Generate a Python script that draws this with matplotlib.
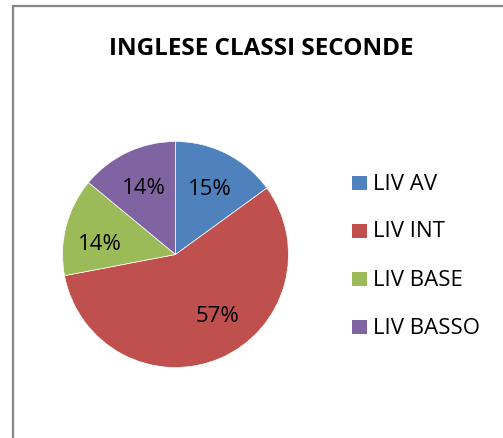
import matplotlib
matplotlib.use("Agg")
import matplotlib.pyplot as plt
from matplotlib.patches import Rectangle

plt.rcParams['font.family'] = ['Open Sans', 'DejaVu Sans']

# dati
categorie = ["LIV AV", "LIV INT", "LIV BASE", "LIV BASSO"]
percentuali = [15, 57, 14, 14]
colori = ["#4F81BD", "#C0504D", "#9BBB59", "#8064A2"]
titolo = "INGLESE CLASSI SECONDE"

W, H = 503, 439
fig = plt.figure(figsize=(W / 100, H / 100), dpi=100)

def fx(x):
    return x / W

def fy(y):
    return 1 - y / H

# cornice grigia (esce dal bordo a destra e in basso)
fig.patches.append(Rectangle((fx(13), fy(460)), fx(520), (460 - 7) / H,
                             transform=fig.transFigure, fill=False,
                             edgecolor="#878787", linewidth=1.6))

fig.text(fx(261.5), fy(49.5), titolo, ha="center", va="center",
         fontsize=17.5, fontweight="bold", color="black")

# torta
cx, cy, r = 175.5, 255.5, 113
ax = fig.add_axes([fx(cx - r), fy(cy + r), 2 * r / W, 2 * r / H])
wedges, testi, pct = ax.pie(percentuali, colors=colori, startangle=90,
                            counterclock=False, autopct="%d%%",
                            pctdistance=0.66,
                            wedgeprops=dict(linewidth=0.5, edgecolor="white"))
for t in pct:
    t.set_fontsize(16)
    t.set_color("black")
# etichette spostate come nel "adatta" di Excel
pct[1].set_position((0.37, -0.54))
pct[2].set_position((-0.67, 0.10))
ax.set_xlim(-1, 1)
ax.set_ylim(-1, 1)
ax.set_aspect("equal")
ax.axis("off")

# legenda fatta a mano
for i, (nome, col) in enumerate(zip(categorie, colori)):
    yc = 184 + 48 * i
    fig.patches.append(Rectangle((fx(352), fy(yc + 7)), 15 / W, 14 / H,
                                 transform=fig.transFigure,
                                 facecolor=col, edgecolor="none"))
    fig.text(fx(373), fy(yc), nome, ha="left", va="center",
             fontsize=16, color="black")

fig.savefig("out.png", dpi=100)
